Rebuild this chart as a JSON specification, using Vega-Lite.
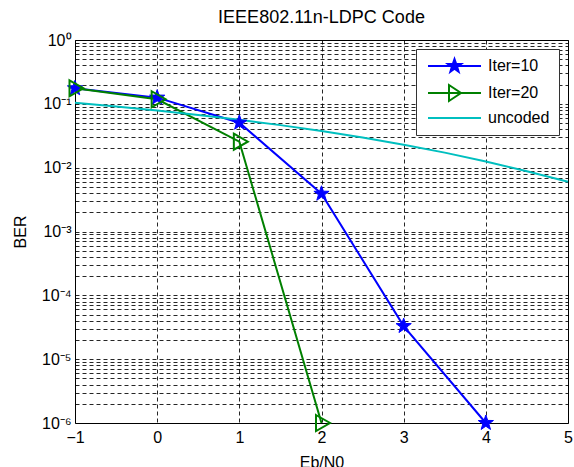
{
  "$schema": "https://vega.github.io/schema/vega-lite/v6.json",
  "width": 493,
  "height": 383,
  "autosize": {"type": "none"},
  "padding": {"left": 75, "top": 40, "right": 6, "bottom": 44},
  "background": "white",
  "title": {"text": "IEEE802.11n-LDPC Code", "fontSize": 18, "fontWeight": "normal", "font": "Liberation Sans", "color": "black", "offset": 5},
  "config": {
    "view": {"stroke": "black", "strokeWidth": 1},
    "axis": {
      "labelFont": "Liberation Sans", "labelFontSize": 16, "labelColor": "black",
      "titleFont": "Liberation Sans", "titleFontSize": 16, "titleFontWeight": "normal", "titleColor": "black",
      "grid": true, "gridColor": "#000000", "gridDash": [4, 3], "gridOpacity": 0.85, "gridWidth": 1,
      "domain": false, "ticks": false, "labelPadding": 6
    }
  },
  "data": {
    "values": [
      {"snr": -1, "ber": 0.175, "series": "Iter=10"},
      {"snr": 0, "ber": 0.125, "series": "Iter=10"},
      {"snr": 1, "ber": 0.0506, "series": "Iter=10"},
      {"snr": 2, "ber": 0.0039, "series": "Iter=10"},
      {"snr": 3, "ber": 0.000033, "series": "Iter=10"},
      {"snr": 4, "ber": 0.000001, "series": "Iter=10"},
      {"snr": -1, "ber": 0.175, "series": "Iter=20"},
      {"snr": 0, "ber": 0.118, "series": "Iter=20"},
      {"snr": 1, "ber": 0.0255, "series": "Iter=20"},
      {"snr": 2, "ber": 0.000001, "series": "Iter=20"},
      {"snr": -1, "ber": 0.104, "series": "uncoded"},
      {"snr": -0.5, "ber": 0.0909, "series": "uncoded"},
      {"snr": 0, "ber": 0.0786, "series": "uncoded"},
      {"snr": 0.5, "ber": 0.0671, "series": "uncoded"},
      {"snr": 1, "ber": 0.0563, "series": "uncoded"},
      {"snr": 1.5, "ber": 0.0464, "series": "uncoded"},
      {"snr": 2, "ber": 0.0375, "series": "uncoded"},
      {"snr": 2.5, "ber": 0.0297, "series": "uncoded"},
      {"snr": 3, "ber": 0.0229, "series": "uncoded"},
      {"snr": 3.5, "ber": 0.0172, "series": "uncoded"},
      {"snr": 4, "ber": 0.0125, "series": "uncoded"},
      {"snr": 4.5, "ber": 0.0088, "series": "uncoded"},
      {"snr": 5, "ber": 0.006, "series": "uncoded"}
    ]
  },
  "encoding": {
    "x": {
      "field": "snr", "type": "quantitative",
      "scale": {"domain": [-1, 5], "nice": false, "zero": false},
      "axis": {"values": [-1, 0, 1, 2, 3, 4, 5], "title": "Eb/N0", "titlePadding": 9, "labelFlush": false}
    },
    "y": {
      "field": "ber", "type": "quantitative",
      "scale": {"type": "log", "domain": [0.000001, 1], "nice": false},
      "axis": {
        "title": "BER", "titlePadding": 13, "labelOverlap": false, "labelPadding": 4,
        "values": [0.000001, 0.000002, 0.000003, 0.000004, 0.000005, 0.000006, 0.000007, 0.000008, 0.000009,
                   0.00001, 0.00002, 0.00003, 0.00004, 0.00005, 0.00006, 0.00007, 0.00008, 0.00009,
                   0.0001, 0.0002, 0.0003, 0.0004, 0.0005, 0.0006, 0.0007, 0.0008, 0.0009,
                   0.001, 0.002, 0.003, 0.004, 0.005, 0.006, 0.007, 0.008, 0.009,
                   0.01, 0.02, 0.03, 0.04, 0.05, 0.06, 0.07, 0.08, 0.09,
                   0.1, 0.2, 0.3, 0.4, 0.5, 0.6, 0.7, 0.8, 0.9, 1],
        "labelExpr": "abs(log(datum.value)/LN10 - round(log(datum.value)/LN10)) < 0.000001 ? '10' + (round(log(datum.value)/LN10) < 0 ? '⁻' : '') + ['⁰','¹','²','³','⁴','⁵','⁶'][abs(round(log(datum.value)/LN10))] : ''"
      }
    }
  },
  "layer": [
    {
      "mark": {"type": "line", "strokeWidth": 2},
      "encoding": {
        "color": {
          "field": "series", "type": "nominal",
          "scale": {"domain": ["Iter=10", "Iter=20", "uncoded"], "range": ["#0000ff", "#008000", "#00bfbf"]},
          "legend": {
            "title": null, "orient": "top-right", "offset": 9, "padding": 9,
            "fillColor": "white", "strokeColor": "#333333",
            "symbolSize": 100, "symbolStrokeWidth": 2,
            "labelOffset": 47, "labelFontSize": 16, "labelFont": "Liberation Sans", "labelColor": "black",
            "rowPadding": 5,
            "encode": {
              "symbols": {
                "update": {
                  "shape": {"signal": "datum.value === 'Iter=10' ? 'M-1,0L9.6,0M4.3,-1.4L4.629,-0.453L5.631,-0.433L4.833,0.173L5.123,1.133L4.3,0.56L3.477,1.133L3.767,0.173L2.969,-0.433L3.971,-0.453Z' : datum.value === 'Iter=20' ? 'M-1,0L9.6,0M3.2,-1.6L5.6,0L3.2,1.6Z' : 'M-1,0L9.6,0'"},
                  "fill": {"signal": "datum.value === 'Iter=10' ? '#0000ff' : 'transparent'"},
                  "strokeWidth": {"value": 2}
                }
              }
            }
          }
        }
      }
    },
    {
      "transform": [{"filter": "datum.series === 'Iter=10'"}],
      "mark": {"type": "point", "shape": "M0,-1L0.235,-0.324L0.951,-0.309L0.38,0.124L0.588,0.809L0,0.4L-0.588,0.809L-0.38,0.124L-0.951,-0.309L-0.235,-0.324Z", "size": 256, "filled": true, "fill": "#0000ff", "stroke": "#0000ff", "strokeWidth": 1, "opacity": 1}
    },
    {
      "transform": [{"filter": "datum.series === 'Iter=20'"}],
      "mark": {"type": "point", "shape": "M-0.55,-0.8L0.85,0L-0.55,0.8Z", "size": 400, "filled": false, "stroke": "#008000", "strokeWidth": 2, "opacity": 1}
    }
  ]
}
